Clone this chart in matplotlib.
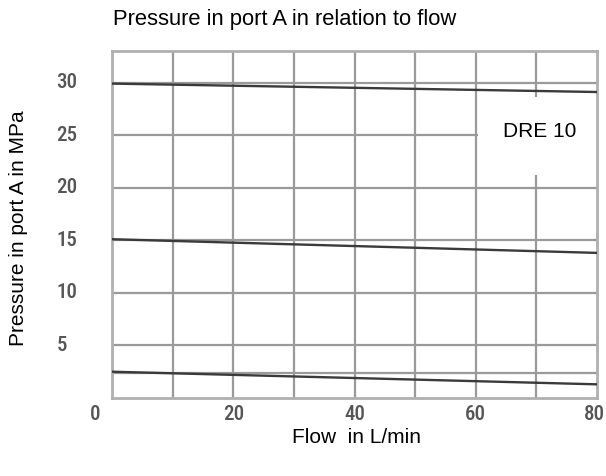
import matplotlib
matplotlib.use("Agg")
from matplotlib import pyplot as plt
from matplotlib.patches import Rectangle
import matplotlib.transforms as mtransforms

# flow (L/min) and pressure (MPa) for the three settings
flow = [0, 80]
p_high = [29.9, 29.1]
p_mid = [15.1, 13.8]
p_low = [2.5, 1.3]

x_ticks = [0, 20, 40, 60, 80]
y_ticks = [5, 10, 15, 20, 25, 30]
x_grid = [10, 20, 30, 40, 50, 60, 70]
y_grid = [2.4, 5, 10, 15, 20, 25, 30]

text_font = ["Liberation Sans", "DejaVu Sans"]

fig = plt.figure(figsize=(6.06, 4.77), dpi=100)
ax = fig.add_axes([112 / 606, 1 - 399 / 477, 485 / 606, 347 / 477])
ax.set_xlim(0, 80)
ax.set_ylim(0, 33)

grid_col = "#9a9a9a"
for x in x_grid:
    ax.axvline(x, color=grid_col, lw=1.6, zorder=1)
for y in y_grid:
    ax.axhline(y, color=grid_col, lw=1.6, zorder=1)

# white box behind the label
ax.add_patch(Rectangle((60.4, 21.2), 19.6, 7.4, facecolor="white", edgecolor="none", zorder=2))
ax.text(70.6, 25.4, "DRE 10", fontsize=15, family=text_font, ha="center", va="center", zorder=3)

for p in (p_high, p_mid, p_low):
    ax.plot(flow, p, color="#3a3a3a", lw=1.7, zorder=4)

for s in ax.spines.values():
    s.set_color("#b0b0b0")
    s.set_linewidth(2)

ax.set_xticks(x_ticks)
ax.set_yticks(y_ticks)
ax.tick_params(length=0, colors="#555555", labelsize=15)
ax.tick_params(axis="x", pad=4)
ax.tick_params(axis="y", pad=40)
for lab in ax.get_xticklabels() + ax.get_yticklabels():
    lab.set_family(["Roboto Condensed", "Liberation Sans Narrow", "DejaVu Sans"])
    lab.set_fontstretch("condensed")
    lab.set_fontweight("medium")
for lab in ax.get_yticklabels():
    lab.set_horizontalalignment("left")
    lab.set_transform(lab.get_transform() + mtransforms.ScaledTranslation(0, 3 / 100, fig.dpi_scale_trans))
first = ax.get_xticklabels()[0]
first.set_transform(first.get_transform() + mtransforms.ScaledTranslation(-17 / 100, 0, fig.dpi_scale_trans))
last = ax.get_xticklabels()[-1]
last.set_transform(last.get_transform() + mtransforms.ScaledTranslation(-3 / 100, 0, fig.dpi_scale_trans))

fig.text(113 / 606, 1 - 19 / 477, "Pressure in port A in relation to flow", fontsize=15.8,
         family=text_font, ha="left", va="center")
fig.text(357 / 606, 1 - 438 / 477, "Flow  in L/min", fontsize=15, family=text_font,
         ha="center", va="center")
fig.text(19 / 606, 1 - 228 / 477, "Pressure in port A in MPa", fontsize=15, family=text_font,
         ha="center", va="center", rotation=90)

fig.savefig("out.png", dpi=100)
